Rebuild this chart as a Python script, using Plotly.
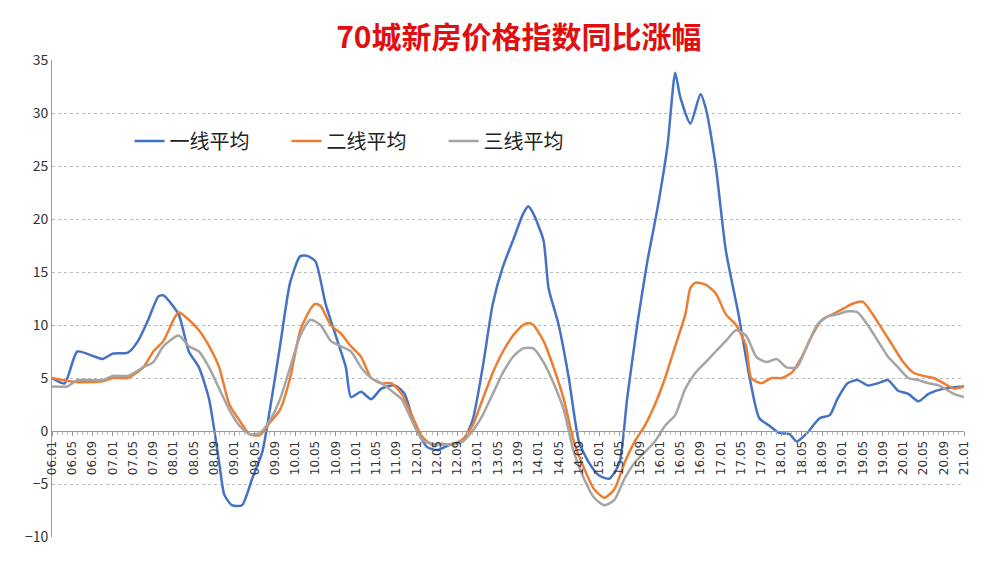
import plotly.graph_objects as go

# month index from 2006.01 (0) to 2021.01 (180)
t1_m = [0, 2.5, 5, 8.5, 10, 12, 15, 17, 19, 21, 22, 25, 27, 29, 31, 33, 34, 35.5, 37.5, 39.5, 41.5, 43, 45, 47, 49,
        50.5, 52, 54, 56, 58, 59, 61, 63, 65, 67.7, 69.6, 71.6, 74, 76, 78.5, 81, 83, 85, 87, 89, 91, 93, 94, 95, 97,
        98, 100, 102, 104, 106, 108, 110, 112, 113.5, 115.5, 117.5, 119.5, 121.5, 123, 124, 126, 128, 129, 131, 133,
        135.5, 137.7, 139.6, 141.6, 143.6, 145.6, 147, 149, 151.5, 153.5, 155, 157, 159, 161, 163, 165, 167, 169, 171,
        173, 176, 180]
t1_v = [5, 4.5, 7.5, 7, 6.8, 7.3, 7.4, 8.5, 10.5, 12.7, 12.8, 11, 7.5, 6, 3, -3, -6, -7, -7, -4.5, -2, 2, 8, 14, 16.5,
        16.5, 16, 12, 9, 6, 3.2, 3.7, 3, 4, 4.3, 3.5, 0.5, -1.5, -1.8, -1.3, -1, 1, 6, 12, 15.5, 18, 20.5, 21.2, 20.5, 18,
        13.5, 10, 5, -1, -3, -4.2, -4.5, -3, 3, 10, 16, 21, 27, 33.8, 31.5, 29, 31.8, 30.5, 25, 17,
        11, 5, 1.2, 0.5, -0.2, -0.3, -1, -0.2, 1.2, 1.5, 3, 4.5, 4.8, 4.3, 4.5, 4.8, 3.8, 3.5, 2.8,
        3.5, 4, 4.2]

t2_m = [0, 5, 10, 12, 15, 18, 20, 22, 24, 25, 27, 29, 31, 33, 35, 37, 39, 41, 43, 45, 47, 49, 51, 52, 53, 55, 57, 59,
        61, 63, 65, 67, 69, 71, 73, 75, 77, 79, 81, 83, 85, 87, 89, 91, 93, 94, 95, 97, 99, 101, 103, 105, 107, 109,
        111, 113, 115, 117, 119, 121, 123, 125, 126, 127, 129, 131, 133, 135, 137, 138, 140, 142, 144, 146, 148, 150,
        152, 154, 156, 158, 160, 162, 164, 166, 168, 170, 172, 174, 176, 178, 180]
t2_v = [5, 4.6, 4.7, 5, 5, 6, 7.5, 8.5, 10.5, 11.2, 10.5, 9.5, 8, 6, 2.5, 1, -0.3, -0.4, 0.8, 2, 5, 9.5, 11.5, 12, 11.8,
        10, 9.2, 8, 7, 5, 4.5, 4.5, 3.5, 1.5, -0.5, -1.3, -1.2, -1.3, -0.8, 0.5, 3, 5.5, 7.5, 9, 10, 10.2, 10, 8.5, 6,
        3, -1, -3.5, -5.5, -6.3, -5.5, -3, -1, 0.5, 2.5, 5, 8, 11, 13.5, 14, 13.8, 13, 11, 10, 8, 5, 4.5, 5, 5, 5.5, 7,
        9, 10.5, 11, 11.5, 12, 12.2, 11, 9.5, 8, 6.5, 5.5, 5.2, 5, 4.5, 4, 4.2]

t3_m = [0, 3, 5, 10, 12, 15, 18, 20, 22, 25, 27, 29, 31, 33, 35, 37, 39, 41, 43, 45, 47, 49, 51, 53, 55, 57, 59, 61,
        63, 65, 67, 69, 71, 73, 75, 77, 79, 81, 83, 85, 87, 89, 91, 93, 95, 97, 99, 101, 103, 105, 107, 109, 111, 113,
        115, 117, 119, 121, 123, 125, 127, 129, 131, 133, 135, 137, 139, 141, 143, 145, 147, 149, 151, 153, 155, 157,
        159, 161, 163, 165, 167, 169, 171, 173, 175, 178, 180]
t3_v = [4.2, 4.2, 4.8, 4.8, 5.2, 5.2, 6, 6.5, 8, 9, 8, 7.5, 6, 4, 2, 0.5, -0.3, -0.2, 1, 3, 6, 9, 10.5, 10, 8.5, 8,
        7.5, 6, 5, 4.5, 3.8, 3, 1, -0.8, -1.2, -1.3, -1.2, -1, 0, 1.5, 3.5, 5.5, 7, 7.8, 7.8, 6.5, 4.5, 2, -2, -4.5,
        -6.3, -7, -6.5, -4.5, -3, -2, -1, 0.5, 1.5, 4, 5.5, 6.5, 7.5, 8.5, 9.5, 9, 7, 6.5, 6.8, 6, 6, 8, 10, 10.8, 11,
        11.3, 11.2, 10, 8.5, 7, 6, 5, 4.8, 4.5, 4.3, 3.5, 3.2]

names = ["一线平均", "二线平均", "三线平均"]
colors = ["#4472C4", "#ED7D31", "#A5A5A5"]

tick_vals = list(range(0, 181, 4))
tick_text = ["%02d.%02d" % (6 + v // 12, v % 12 + 1) for v in tick_vals]

fig = go.Figure()
for m, v, n, c in zip([t1_m, t2_m, t3_m], [t1_v, t2_v, t3_v], names, colors):
    fig.add_trace(go.Scatter(x=m, y=v, name=n, mode="lines",
                             line=dict(color=c, width=2.5, shape="spline", smoothing=0.6)))

# page body adds an 8px offset, so the figure is slightly smaller than the window
fig.update_layout(
    width=992, height=553,
    paper_bgcolor="white", plot_bgcolor="white",
    margin=dict(l=44, r=36, t=52, b=24, autoexpand=False),
    title=dict(text="<b>70城新房价格指数同比涨幅</b>", x=0.515, y=0.965, xanchor="center",
               font=dict(size=30, color="#E01010", family="Noto Sans CJK SC")),
    font=dict(family="Noto Sans CJK SC", size=13, color="#333"),
    legend=dict(orientation="h", x=0.085, y=0.83, xanchor="left", yanchor="middle",
                entrywidth=112, entrywidthmode="pixels",
                font=dict(size=20, color="#222"), bgcolor="rgba(0,0,0,0)"),
    xaxis=dict(range=[0, 180], tickvals=tick_vals, ticktext=tick_text, tickangle=-90,
               anchor="free", position=10 / 45, showgrid=False, zeroline=False, automargin=False,
               showline=True, linecolor="#999", ticks="outside", ticklen=4, tickcolor="#999",
               minor=dict(dtick=1, ticks="outside", ticklen=3, tickcolor="#bbb"),
               tickfont=dict(size=12, color="#333", family="DejaVu Sans")),
    yaxis=dict(range=[-10, 35], dtick=5, showgrid=True, gridcolor="#bbb", griddash="dot",
               zeroline=False, showline=True, linecolor="#999", automargin=False,
               tickfont=dict(size=14, color="#333")),
)

fig.write_html("out.html")
